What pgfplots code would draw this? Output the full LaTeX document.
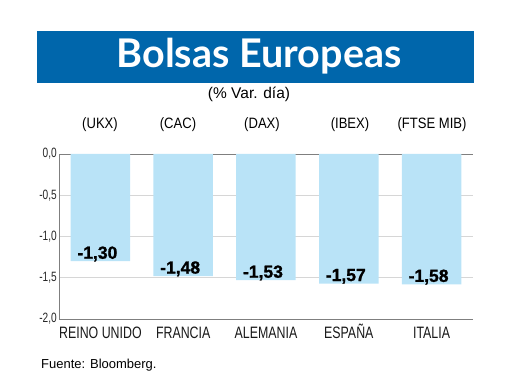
\documentclass[border=0pt]{standalone}
\usepackage{fontspec}
\setmainfont{Liberation Sans}
\newfontfamily\cond[FakeStretch=0.75]{Liberation Sans}
\newfontfamily\semicond[FakeStretch=0.87]{Liberation Sans}
\newfontfamily\boldlab[FakeBold=1.2]{Liberation Sans Bold}
\newfontfamily\titlefont{Lato Bold}
\usepackage{pgfplots}
\pgfplotsset{compat=1.18}
\definecolor{titleblue}{HTML}{0066AB}
\definecolor{barblue}{HTML}{B9E3F7}
\definecolor{axisgray}{HTML}{7F7F7F}
\definecolor{gridgray}{HTML}{D6D6D6}
\begin{document}
\begin{tikzpicture}
\path[use as bounding box] (0,0) rectangle (520pt,-390pt);
\fill[titleblue] (37pt,-31pt) rectangle (474pt,-83pt);
\node[anchor=base, text=white, inner sep=0pt, font=\titlefont\fontsize{39.5}{42}\selectfont] at (259pt,-68pt) {Bolsas Europeas};
\node[anchor=base, inner sep=0pt, font=\fontsize{15.5}{17}\selectfont] at (249pt,-99pt) {(\% Var. día)};
\foreach \xx/\lab in {100/(UKX),178/(CAC),262/(DAX),350/(IBEX),432/(FTSE MIB)}{
  \node[anchor=base, inner sep=0pt, font=\semicond\fontsize{15}{17}\selectfont] at (\xx pt,-129pt) {\lab};
}
\node[anchor=base west, inner sep=0pt, font=\fontsize{13}{15}\selectfont] at (41pt,-369pt) {Fuente: Bloomberg.};
\begin{axis}[
  at={(59pt,-319pt)}, anchor=south west,
  scale only axis, width=414pt, height=165pt,
  xmin=-0.5, xmax=4.5, ymin=-2, ymax=0,
  ybar, bar width=59.5pt,
  axis x line*=bottom, axis y line*=left,
  axis line style={draw=axisgray, line width=0.8pt, -},
  xtick={0,1,2,3,4},
  xticklabels={REINO UNIDO,FRANCIA,ALEMANIA,ESPAÑA,ITALIA},
  ytick={-2,-1.5,-1,-0.5,0},
  extra y ticks={0},
  extra y tick labels={},
  extra y tick style={grid style={draw=axisgray, line width=0.8pt}},
  major tick length=0pt,
  ymajorgrids,
  grid style={draw=gridgray, line width=0.6pt},
  yticklabel style={font=\cond\fontsize{13.5}{15}\selectfont, inner sep=2pt, text=black!85},
  xticklabel style={font=\cond\fontsize{16.5}{18}\selectfont, text=black!90, anchor=base, inner sep=0pt, yshift=-20pt},
  /pgf/number format/.cd, fixed, fixed zerofill, precision=1, use comma, assume math mode=true,
]
\addplot[fill=barblue, draw=none,
  nodes near coords={\pgfmathprintnumber[fixed,fixed zerofill,precision=2,use comma,assume math mode=true]{\pgfplotspointmeta}},
  nodes near coords align={anchor=base},
  every node near coord/.append style={font=\boldlab\fontsize{17.5}{19}\selectfont, inner sep=0pt, xshift=-3pt, yshift=2.5pt, text=black}]
  coordinates {(0,-1.30) (1,-1.48) (2,-1.53) (3,-1.57) (4,-1.58)};
\end{axis}
\end{tikzpicture}
\end{document}
